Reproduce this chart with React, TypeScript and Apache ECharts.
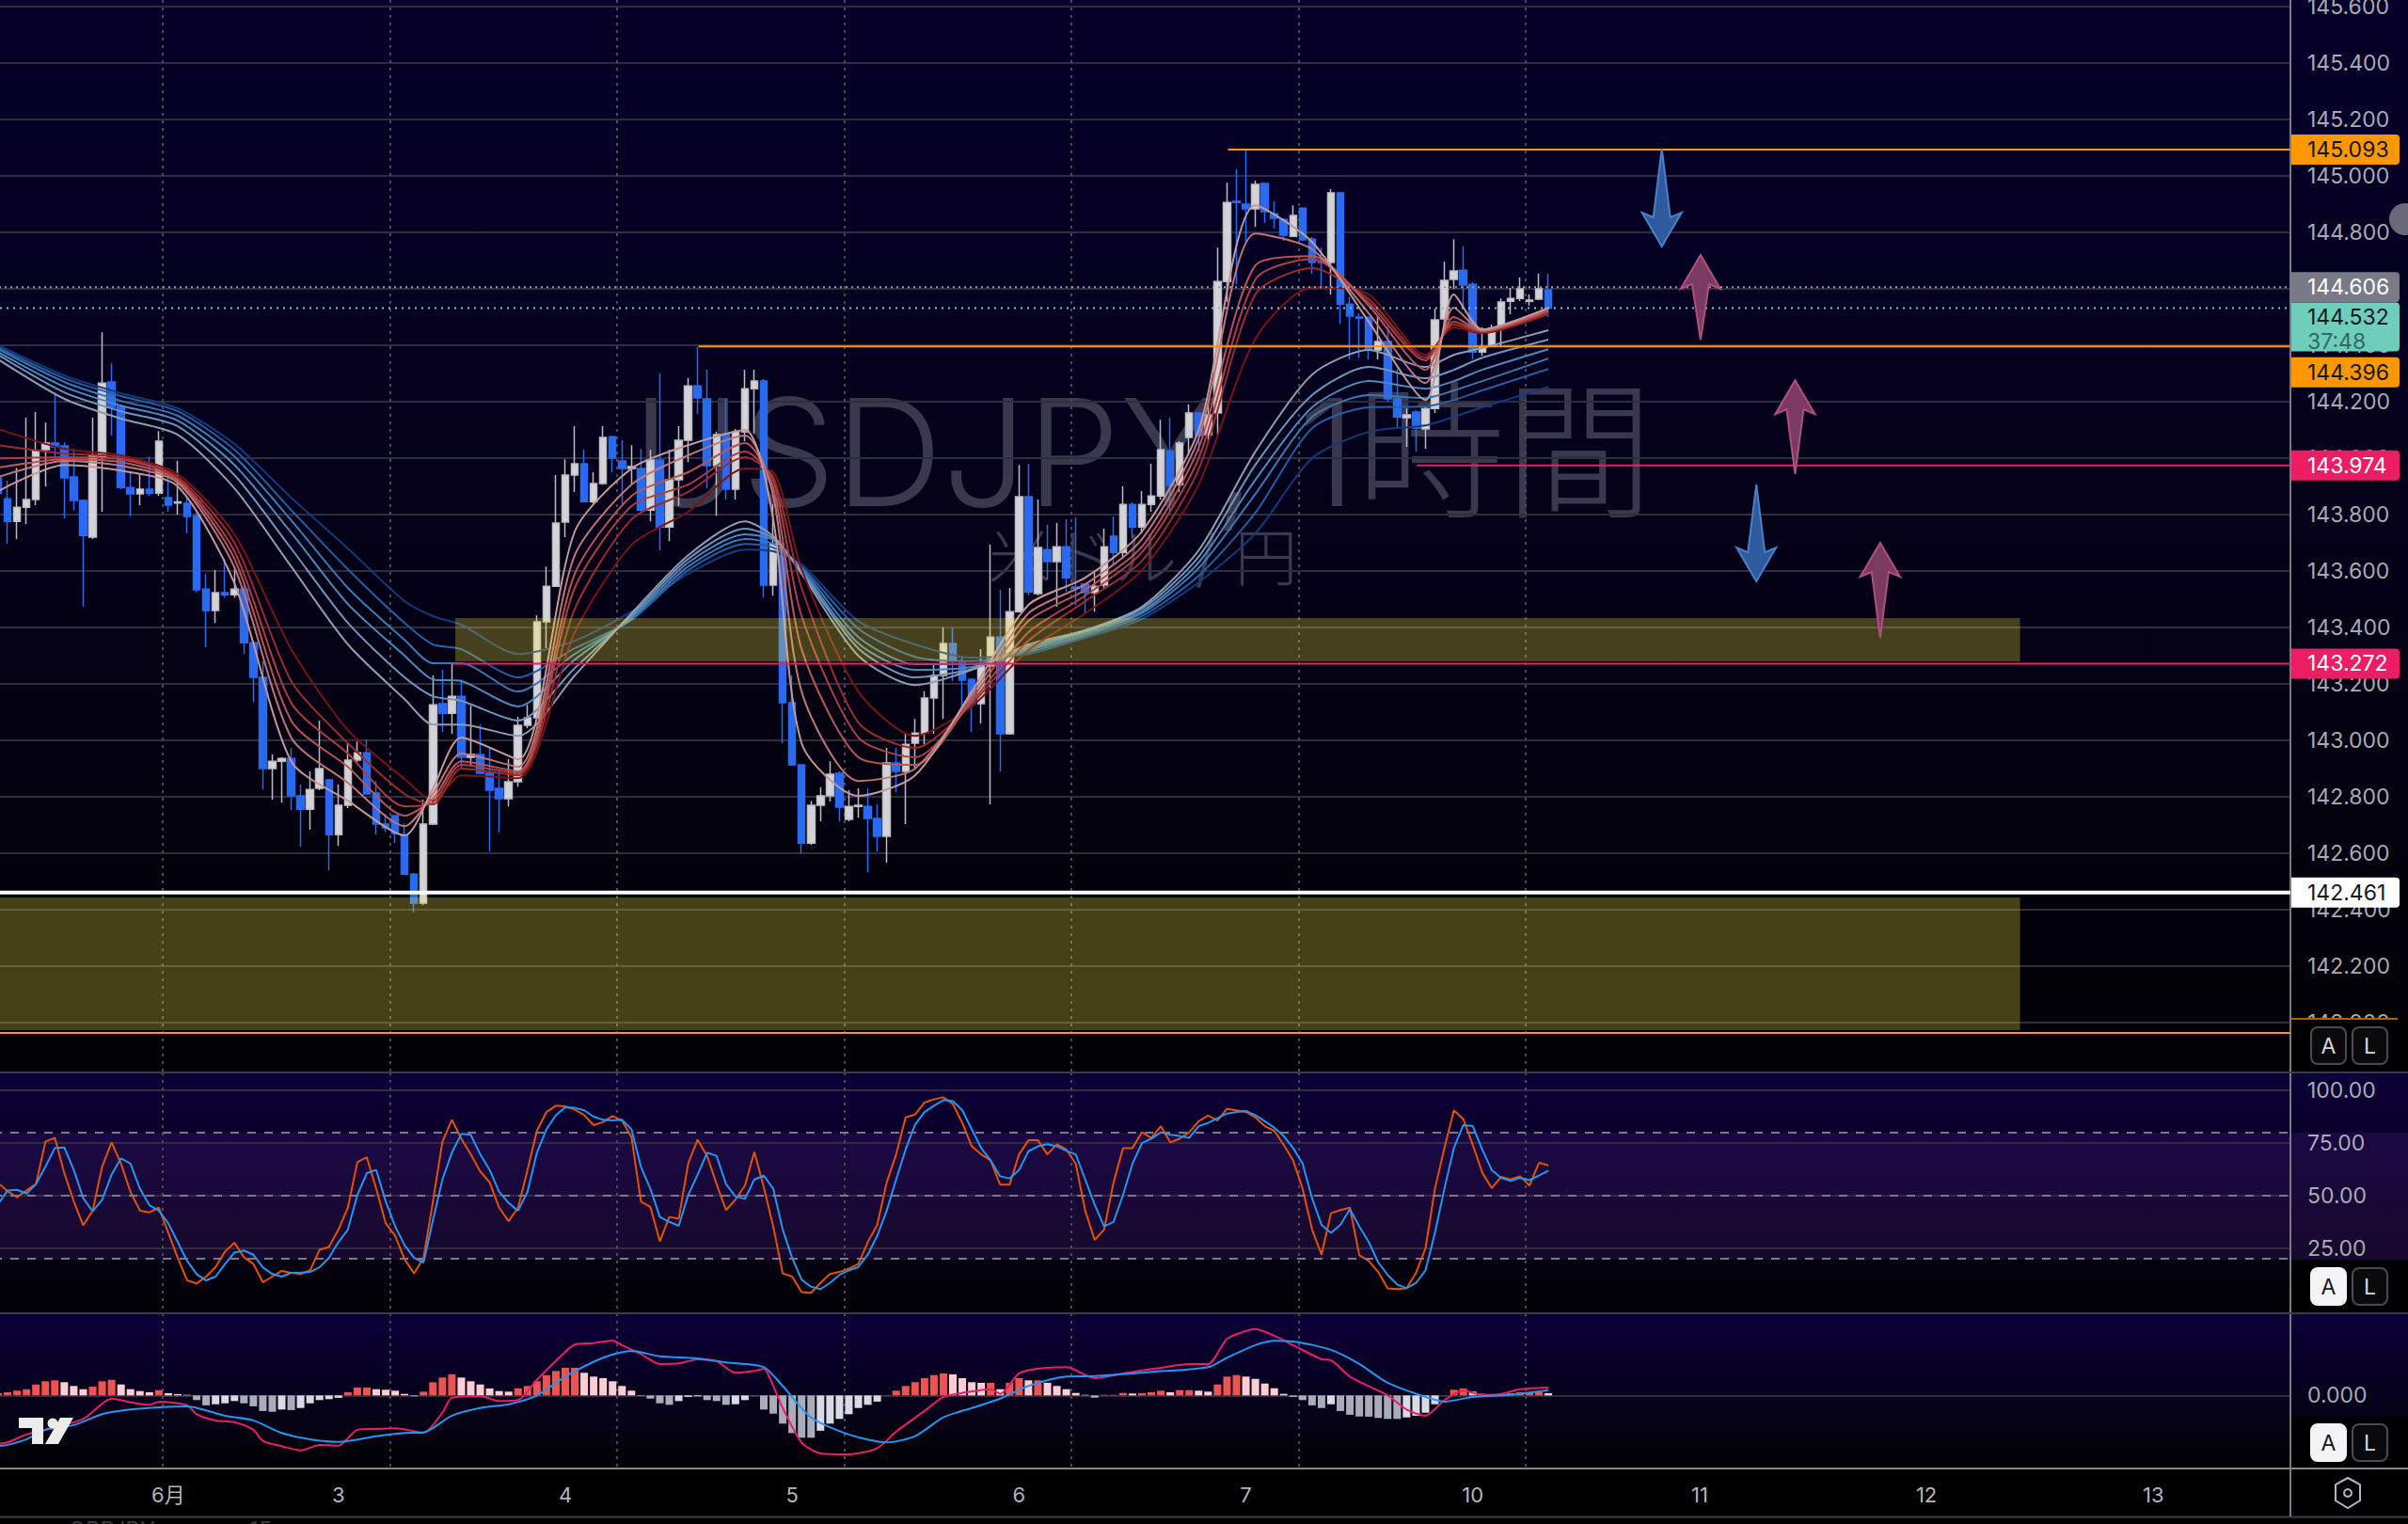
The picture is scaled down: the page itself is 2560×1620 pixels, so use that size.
import React, { useEffect, useRef } from "react";
import * as echarts from "echarts";

const FONT = "Inter, 'Noto Sans', sans-serif";
const CJK = "Inter, 'Noto Sans CJK JP', sans-serif";

const slotCount = 243;
const tickIndex = [18, 36, 60, 84, 108, 132, 156, 180, 204, 228];
const tickLabels = ["6月", "3", "4", "5", "6", "7", "10", "11", "12", "13"];
const dayLines = [17.91, 41.94, 65.97, 90, 114.03, 138.06, 162.09];
const priceTicks = [142.0, 142.2, 142.4, 142.6, 142.8, 143.0, 143.2, 143.4, 143.6, 143.8, 144.0, 144.2, 144.4, 144.6, 144.8, 145.0, 145.2, 145.4, 145.6];
const stochTicks = [25, 50, 75, 100];
const macdTicks = [0];

// open, close, low, high
const candles: number[][] = [
[143.93,143.876,143.82,143.99],
[143.856,143.776,143.696,143.92],[143.776,143.826,143.713,143.966],[143.826,143.853,143.766,144.143],[143.853,144.026,143.833,144.163],[144.03,144.053,143.9,144.126],[144.053,144.04,143.999,144.226],[144.043,143.93,143.786,144.056],[143.933,143.85,143.816,144.033],[143.85,143.726,143.473,143.853],[143.72,144.01,143.713,144.143],
[144.006,144.266,143.81,144.446],[144.27,144.18,144.08,144.336],[144.183,143.896,143.89,144.19],[143.896,143.873,143.793,143.95],[143.873,143.89,143.833,143.946],[143.89,143.876,143.866,144.006],[143.876,144.06,143.866,144.096],[143.86,143.833,143.81,143.943],[143.841,143.845,143.8,143.99],[143.84,143.793,143.733,143.866],
[143.796,143.533,143.523,143.806],[143.536,143.46,143.33,143.59],[143.46,143.523,143.416,143.603],[143.523,143.516,143.506,143.643],[143.516,143.536,143.506,143.616],[143.536,143.346,143.306,143.563],[143.346,143.223,143.136,143.353],[143.223,142.9,142.826,143.28],[142.9,142.926,142.79,142.95],[142.926,142.936,142.78,142.94],
[142.936,142.803,142.753,142.973],[142.803,142.756,142.623,142.843],[142.756,142.826,142.683,142.89],[142.83,142.9,142.823,143.07],[142.86,142.666,142.54,142.863],[142.666,142.77,142.626,142.843],[142.77,142.93,142.76,142.99],[142.93,142.956,142.923,142.996],[142.956,142.81,142.808,143.003],[142.813,142.703,142.666,142.856],
[142.703,142.69,142.676,142.74],[142.733,142.67,142.636,142.736],[142.666,142.526,142.524,142.706],[142.526,142.423,142.39,142.53],[142.423,142.703,142.416,142.79],[142.703,143.126,142.7,143.23],[143.13,143.096,143.03,143.25],[143.096,143.156,143.023,143.27],[143.156,142.94,142.9,143.216],[142.94,142.95,142.913,143.123],
[142.95,142.883,142.88,143.056],[142.883,142.823,142.606,142.976],[142.83,142.793,142.673,142.89],[142.793,142.853,142.766,142.933],[142.853,143.053,142.836,143.083],[143.053,143.08,143.043,143.126],[143.08,143.42,143.076,143.443],[143.42,143.546,143.326,143.616],[143.546,143.77,143.545,143.94],[143.773,143.94,143.72,143.996],
[143.94,143.98,143.88,144.113],[143.98,143.846,143.843,144.03],[143.846,143.91,143.84,143.95],[143.91,144.073,143.906,144.113],[144.076,144.0,143.95,144.08],[143.99,143.963,143.836,144.063],[143.963,143.97,143.906,144.046],[143.963,143.816,143.803,144.033],[143.816,143.993,143.776,144.03],[143.993,143.756,143.673,144.3],
[143.756,143.923,143.706,144.03],[143.923,144.063,143.83,144.113],[144.063,144.256,143.986,144.283],[144.256,144.213,144.156,144.396],[144.21,143.973,143.893,144.313],[143.973,144.083,143.796,144.093],[144.086,143.89,143.853,144.21],[143.89,144.093,143.853,144.103],[144.093,144.246,144.06,144.313],[144.246,144.273,144.086,144.313],
[144.273,143.55,143.506,144.28],[143.55,143.696,143.513,143.836],[143.676,143.133,142.99,143.7],[143.133,142.913,142.91,143.23],[142.913,142.636,142.6,142.916],[142.636,142.77,142.63,142.786],[142.77,142.803,142.713,142.833],[142.803,142.88,142.783,142.926],[142.883,142.763,142.713,142.89],[142.72,142.766,142.713,142.823],
[142.766,142.77,142.726,142.83],[142.766,142.723,142.533,142.83],[142.723,142.66,142.606,142.773],[142.66,142.92,142.566,142.973],[142.92,142.89,142.816,142.973],[142.89,142.986,142.703,143.026],[142.99,143.026,142.9,143.076],[143.026,143.15,142.986,143.173],[143.15,143.23,143.023,143.27],[143.23,143.343,143.076,143.4],
[143.343,143.28,143.21,143.4],[143.28,143.213,143.113,143.3],[143.216,143.13,143.03,143.22],[143.13,143.263,143.06,143.323],[143.263,143.366,142.773,143.693],[143.366,143.023,142.89,143.533],[143.023,143.456,143.02,143.54],[143.456,143.863,143.455,143.976],[143.863,143.526,143.513,143.98],[143.52,143.683,143.513,143.853],
[143.676,143.633,143.57,143.763],[143.633,143.686,143.473,143.77],[143.686,143.576,143.526,143.783],[143.543,143.538,143.48,143.79],[143.553,143.523,143.45,143.556],[143.523,143.546,143.456,143.596],[143.55,143.686,143.54,143.75],[143.723,143.666,143.623,143.793],[143.666,143.836,143.643,143.9],[143.836,143.756,143.716,143.843],
[143.756,143.836,143.733,143.883],[143.836,143.866,143.81,143.98],[143.866,144.03,143.853,144.136],[144.026,143.903,143.803,144.143],[143.906,144.053,143.88,144.06],[144.073,144.16,144.01,144.19],[144.16,144.08,144.023,144.163],[144.083,144.153,144.06,144.186],[144.16,144.626,144.08,144.746],[144.626,144.906,144.553,144.976],
[144.91,144.906,144.616,145.023],[144.9,144.883,144.763,145.093],[144.883,144.97,144.82,144.983],[144.973,144.873,144.833,144.973],[144.866,144.85,144.813,144.91],[144.846,144.79,144.77,144.85],[144.786,144.86,144.783,144.896],[144.886,144.773,144.77,144.887],[144.776,144.693,144.653,144.783],[144.7,144.693,144.606,144.746],
[144.693,144.94,144.58,144.953],[144.94,144.546,144.476,144.943],[144.546,144.503,144.35,144.57],[144.5,144.496,144.356,144.513],[144.5,144.383,144.35,144.5],[144.383,144.413,144.35,144.5],[144.413,144.21,144.2,144.466],[144.21,144.146,144.103,144.316],[144.143,144.153,144.04,144.176],[144.163,144.106,144.023,144.17],
[144.103,144.176,144.033,144.186],[144.176,144.49,144.16,144.53],[144.493,144.63,144.433,144.696],[144.633,144.663,144.6,144.776],[144.666,144.613,144.533,144.75],[144.616,144.376,144.35,144.623],[144.376,144.393,144.363,144.463],[144.4,144.46,144.396,144.473],[144.466,144.553,144.396,144.566],[144.556,144.566,144.51,144.603],
[144.566,144.6,144.556,144.64],[144.556,144.56,144.54,144.58],[144.563,144.6,144.56,144.653],[144.596,144.532,144.5,144.653],
];

const maIdx = [0,7,13,19,25,31,37,43,46,49,55,61,67,73,79,82,85,91,97,103,109,115,121,127,133,139,145,151,154,157,164];
const blue1 = [144.35,144.21,144.14,144.083,143.893,143.616,143.34,143.146,143.056,143.056,143.016,143.23,143.45,143.656,143.776,143.723,143.59,143.3,143.196,143.25,143.34,143.39,143.473,143.673,144.023,144.296,144.383,144.323,144.366,144.39,144.453];
const blue2 = [144.366,144.233,144.166,144.113,143.94,143.68,143.416,143.223,143.156,143.14,143.07,143.256,143.443,143.643,143.75,143.716,143.596,143.326,143.223,143.253,143.333,143.386,143.466,143.65,143.976,144.223,144.323,144.283,144.313,144.356,144.42];
const blue3 = [144.376,144.253,144.186,144.133,143.976,143.736,143.483,143.3,143.216,143.21,143.12,143.286,143.436,143.63,143.73,143.71,143.603,143.343,143.25,143.26,143.326,143.383,143.456,143.63,143.923,144.18,144.273,144.246,144.273,144.313,144.386];
const blue4 = [144.386,144.27,144.203,144.15,144.006,143.78,143.54,143.356,143.273,143.273,143.173,143.306,143.43,143.616,143.713,143.696,143.61,143.366,143.27,143.27,143.32,143.376,143.45,143.61,143.873,144.146,144.223,144.213,144.24,144.273,144.353];
const blue5 = [144.393,144.283,144.22,144.166,144.03,143.816,143.606,143.416,143.34,143.323,143.223,143.326,143.426,143.603,143.696,143.683,143.616,143.396,143.296,143.28,143.313,143.37,143.44,143.583,143.806,144.106,144.18,144.183,144.206,144.24,144.316];
const blue6 = [144.4,144.293,144.23,144.176,144.05,143.86,143.68,143.493,143.44,143.41,143.306,143.353,143.456,143.59,143.676,143.67,143.623,143.423,143.34,143.293,143.306,143.363,143.43,143.56,143.733,144.0,144.093,144.116,144.146,144.18,144.253];
const red1 = [143.883,143.976,143.956,143.9,143.556,142.926,142.786,142.663,142.83,143.01,142.933,143.74,143.963,144.046,144.1,143.783,142.99,142.803,142.876,143.173,143.48,143.576,143.74,144.1,144.896,144.766,144.483,144.206,144.58,144.456,144.533];
const red2 = [143.933,143.99,143.973,143.913,143.613,143.01,142.85,142.696,142.81,142.953,142.906,143.656,143.906,144.01,144.08,143.866,143.173,142.856,142.9,143.16,143.45,143.553,143.713,144.07,144.796,144.74,144.513,144.266,144.533,144.453,144.53];
const red3 = [143.966,143.996,143.986,143.92,143.643,143.07,142.906,142.733,142.793,142.926,142.89,143.59,143.866,143.95,144.053,143.893,143.323,142.94,142.913,143.146,143.423,143.533,143.686,144.036,144.683,144.716,144.54,144.313,144.5,144.45,144.523];
const red4 = [143.999,144.003,143.996,143.926,143.67,143.133,142.953,142.766,142.78,142.913,142.883,143.54,143.83,143.906,144.023,143.92,143.44,143.01,142.94,143.136,143.383,143.513,143.666,143.999,144.633,144.706,144.55,144.346,144.483,144.45,144.52];
const red5 = [144.046,144.016,144.003,143.933,143.7,143.21,142.99,142.81,142.773,142.9,142.876,143.466,143.783,143.88,144.003,143.933,143.54,143.063,142.973,143.13,143.353,143.493,143.636,143.96,144.58,144.673,144.563,144.356,144.473,144.446,144.513];
const red6 = [144.103,144.033,144.01,143.943,143.73,143.323,143.036,142.863,142.786,142.876,142.866,143.383,143.693,143.81,143.963,143.95,143.606,143.173,143.016,143.12,143.32,143.45,143.603,143.906,144.423,144.606,144.58,144.366,144.463,144.443,144.51];

const stochK = [56,52.1,49.3,52.5,55.5,75.6,77.5,60.7,47.3,35.9,42.9,63.7,75.3,65.2,51.8,42.9,42.1,44.3,32.4,20.5,9.8,8.3,11.6,16.1,23.5,27.7,20.8,17.6,8.9,11.6,14.3,13.4,12.8,14.6,24.3,25.7,33.9,44.3,65.9,68.2,53.3,36.9,31,19.8,13.1,20.5,47.3,75.6,86,77,69.6,61.5,56.3,44.3,37.9,44.3,62.2,80.8,89.7,92.7,92.4,90.8,88.2,83.5,85,87.8,85.6,77.8,47.3,44.6,28.3,39.9,39.1,65.2,76.6,68.9,55.5,43.2,48.1,54.8,70.7,54,35.4,13.1,11.6,4.2,3.9,8.6,12.8,13.8,15.3,17.6,28,36.2,56.3,69.6,87.2,88.5,94.2,95.7,96.7,93.5,84.5,73.4,69.6,66.7,55.2,55.2,69.6,76.3,76.3,69.6,74.4,71.9,65.2,42.9,29,33.9,56.3,72.6,72.6,80.1,77.4,83,75.3,77.1,80.1,85.3,88,85.7,91.2,90.5,89.7,87.2,83,80.8,74.1,66.7,53.3,33.9,22,41.7,43.2,44.3,21.7,19,13.8,6,5.7,6,13.4,25,53.3,72.6,90.5,86.3,74.1,61,53.6,58.9,57.7,59.2,54.8,65.6,64.4];
const stochD = [46,52.5,52.8,51,55.5,63.7,72.6,72.9,62.2,48.8,42.6,48,60,67.7,65.2,53.3,45.5,42.9,36.9,28,19,12.8,9.8,11.6,17.6,23,24,22,16,12.8,11.6,13.4,13.5,13.8,16,20.5,28,33.9,50.3,60.7,62.2,47.3,35.4,26.5,20.5,18.3,38.4,57.7,70.4,79.3,78.9,69.6,62.2,51.8,46.6,42.9,51.8,70.4,81.5,88.2,92,91.7,90.5,87.5,86,85.7,86,81.5,63.7,53.3,39.9,37.6,35.7,50.3,60,70.4,68.9,55.5,49.6,48.5,57.7,59.5,53.3,33.9,20.5,10.1,6.8,5.7,8.6,12.4,14.6,16.1,22,31,42.9,57.7,71.9,83.8,89.7,92.7,95.4,94.9,90.5,81.5,72.6,66.7,59.2,58.2,62.2,71.1,73.4,74.4,73.4,71.4,69.6,57.7,45.8,35.4,37.6,50.3,65.2,74.9,77.1,80.1,78.9,78.3,77.4,83,84.5,86.8,89,89.7,90.2,88.2,85.3,82.3,78.3,72.6,65.2,48.8,36.2,32.4,36.2,43.6,35.4,28,18.3,12.4,7.9,6.1,8.6,14.6,32.4,53.3,72.6,83.5,83,71.9,62.2,58.5,57,58.5,57.4,59.5,61.9];

const macdHist = [.012,.017,.025,.033,.058,.075,.08,.07,.05,.033,.047,.075,.083,.058,.033,.023,.017,.028,.012,.007,.003,-.025,-.053,-.047,-.042,-.03,-.042,-.058,-.083,-.087,-.075,-.078,-.067,-.042,-.025,-.02,-.013,.017,.042,.042,.033,.03,.025,.008,-.005,.02,.07,.095,.112,.095,.075,.058,.037,.023,.02,.038,.05,.075,.108,.13,.147,.147,.12,.1,.092,.075,.05,.025,-.003,-.017,-.042,-.05,-.03,-.008,-.005,-.025,-.03,-.05,-.047,-.025,-.001,-.075,-.097,-.15,-.2,-.225,-.225,-.188,-.15,-.125,-.1,-.067,-.05,-.033,.001,.025,.05,.07,.092,.108,.117,.112,.092,.07,.067,.067,.033,.067,.092,.08,.08,.067,.05,.033,.013,.003,-.012,.003,.003,.013,.01,.012,.017,.025,.017,.028,.028,.025,.02,.058,.1,.108,.1,.088,.063,.038,.008,-.008,-.025,-.053,-.067,-.047,-.083,-.103,-.112,-.113,-.12,-.125,-.125,-.117,-.108,-.092,-.047,.001,.03,.037,.02,.008,.005,.008,.012,.017,.017,.017,.012];
const macdLine = [[0,-.258],[1,-.25],[3,-.208],[9,-.125],[12,-.017],[14,-.037],[16,-.05],[17,-.033],[20,-.053],[21,-.1],[23,-.133],[25,-.142],[27,-.183],[28,-.242],[30,-.27],[32,-.292],[34,-.263],[36,-.267],[38,-.183],[40,-.178],[42,-.175],[45,-.197],[47,-.092],[48,-.013],[51,-.003],[53,-.03],[55,-.025],[57,.083],[59,.183],[61,.27],[63,.278],[65,.292],[66,.267],[68,.22],[70,.167],[72,.17],[74,.192],[76,.183],[78,.12],[80,.13],[81,.142],[82,.05],[83,-.067],[85,-.25],[87,-.308],[90,-.313],[93,-.28],[95,-.192],[98,-.083],[100,-.008],[102,.013],[105,.033],[106,.008],[108,.117],[110,.142],[113,.15],[116,.092],[119,.117],[123,.147],[126,.167],[128,.167],[130,.3],[132,.342],[133,.353],[135,.317],[137,.267],[140,.192],[141,.187],[143,.1],[147,0],[149,-.075],[151,-.108],[153,-.025],[155,.025],[157,.003],[159,.008],[161,.033],[164,.042]];
const macdSignal = [[0,-.27],[1,-.263],[3,-.233],[5,-.183],[8,-.158],[11,-.1],[14,-.075],[17,-.063],[20,-.058],[24,-.108],[27,-.133],[30,-.2],[33,-.233],[36,-.247],[40,-.217],[43,-.2],[45,-.197],[48,-.108],[51,-.067],[54,-.047],[57,0],[60,.1],[64,.2],[67,.237],[70,.208],[74,.197],[77,.175],[81,.15],[83,.05],[86,-.117],[90,-.208],[94,-.25],[97,-.217],[100,-.117],[103,-.067],[106,-.017],[109,.05],[113,.1],[116,.103],[122,.125],[128,.15],[130,.2],[133,.267],[135,.29],[137,.287],[141,.242],[144,.167],[147,.067],[151,-.008],[153,-.033],[156,-.008],[160,.003],[164,.028]];

// start slot, price, colour, width, dash
const levels: any[][] = [
  [130.6, 145.093, "#ff9800", 2, "solid"],
  [74.6, 144.396, "#ff9800", 2, "solid"],
  [150.6, 143.974, "#e91e63", 2, "solid"],
  [48.6, 143.272, "#e91e63", 2, "solid"],
  [0, 142.461, "#ffffff", 4, "solid"],
  [0, 141.963, "#ff9800", 2, "solid"],
  [0, 144.606, "#9a9aa2", 2, [2, 4]],
  [0, 144.532, "#6fd0c0", 2, [2, 5]],
];
const zones = [
  [48.86, 214.4, 143.433, 143.28],
  [0, 214.4, 142.443, 141.973],
];
// slot, tail price, tip price, colour kind
const arrows = [
  [176.5, 145.096, 144.75, 0],
  [180.6, 144.42, 144.72, 1],
  [190.6, 143.944, 144.276, 1],
  [186.5, 143.906, 143.563, 0],
  [199.6, 143.363, 143.7, 1],
];
// price, text, background, text colour, tag shift
const tags: any[][] = [
  [145.093, "145.093", "#ff9800", "#131722", 0],
  [144.606, "144.606", "#787b86", "#ffffff", 0],
  [144.396, "144.396", "#ff9800", "#131722", 27.5],
  [143.974, "143.974", "#e91e63", "#ffffff", 0],
  [143.272, "143.272", "#e91e63", "#ffffff", 0],
  [142.461, "142.461", "#ffffff", "#131722", 0],
];
const lastPrice = 144.532;
const lastText = "144.532";
const countdown = "37:48";

const blueColors = ["#8e9cb0", "#7095ba", "#4f88bd", "#3a78b5", "#235fa3", "#103a80"];
const redColors = ["#c49898", "#bf7676", "#b85656", "#ab4040", "#9c2b2b", "#7a1414"];

const GRID = "#2d2d3b";
const LEFT = -7;
const WIDTH = 2442;
const TXT = 23;

function buildOption() {
  const categories = Array.from({ length: slotCount }, (_, i) => {
    const k = tickIndex.indexOf(i);
    return k >= 0 ? tickLabels[k] : "";
  });
  const catAxis = (gridIndex: number, labelled: boolean) => ({
    type: "category",
    gridIndex,
    data: categories,
    boundaryGap: true,
    axisLine: { show: false },
    axisTick: { show: false },
    splitLine: { show: false },
    axisLabel: labelled
      ? {
          show: true,
          color: "#b2b5be",
          fontFamily: CJK,
          fontSize: 22,
          margin: 17,
          interval: (i: number) => tickIndex.includes(i),
        }
      : { show: false },
  });
  const dayAxis = (gridIndex: number) => ({
    type: "value",
    gridIndex,
    position: "top",
    min: 0,
    max: slotCount,
    axisLine: { show: false },
    axisLabel: { show: false },
    axisTick: { show: false, customValues: dayLines },
    splitLine: { show: true, lineStyle: { color: "#4a4a55", width: 2, type: [3, 5] } },
  });
  const valAxis = (gridIndex: number, min: number, max: number, ticks: number[], digits: number) => ({
    type: "value",
    gridIndex,
    position: "right",
    min,
    max,
    scale: true,
    axisLine: { show: true, onZero: false, lineStyle: { color: "#787b86", width: 2 } },
    axisTick: { show: false, customValues: ticks },
    splitLine: { show: true, lineStyle: { color: GRID, width: 2 } },
    axisLabel: {
      show: true,
      customValues: ticks,
      margin: 18,
      color: "#a8aab4",
      fontFamily: FONT,
      fontSize: TXT,
      formatter: (v: number) => v.toFixed(digits),
    },
  });

  const maSeries = (vals: number[], color: string, z: number) => ({
    type: "line",
    xAxisIndex: 0,
    yAxisIndex: 0,
    data: maIdx.map((k, i) => [k, vals[i]]),
    showSymbol: false,
    symbol: "none",
    smooth: 0.25,
    z,
    lineStyle: { color, width: 2 },
  });

  const series: any[] = [
    {
      type: "candlestick",
      xAxisIndex: 0,
      yAxisIndex: 0,
      data: candles,
      barWidth: 8,
      z: 3,
      itemStyle: { color: "#d4d4d8", color0: "#2a6af0", borderColor: "#bcbcc2", borderColor0: "#2a6af0", borderWidth: 1.5 },
    },
  ];
  [blue6, blue5, blue4, blue3, blue2, blue1].forEach((v, i) => series.push(maSeries(v, blueColors[5 - i], 4)));
  [red6, red5, red4, red3, red2, red1].forEach((v, i) => series.push(maSeries(v, redColors[5 - i], 4)));

  series.push({
    type: "custom",
    xAxisIndex: 1,
    yAxisIndex: 0,
    z: 6,
    data: zones.map((z) => [z[0], z[2]]),
    renderItem: (p: any, api: any) => {
      const z = zones[p.dataIndex];
      const a = api.coord([z[0], z[2]]);
      const b = api.coord([z[1], z[3]]);
      return { type: "rect", shape: { x: a[0], y: a[1], width: b[0] - a[0], height: b[1] - a[1] }, style: { fill: "rgba(255,235,59,0.27)" } };
    },
  });
  levels.forEach((l) => {
    series.push({
      type: "line",
      xAxisIndex: 1,
      yAxisIndex: 0,
      data: [[l[0], l[1]], [slotCount, l[1]]],
      showSymbol: false,
      symbol: "none",
      z: 7,
      lineStyle: { color: l[2], width: l[3], type: l[4] },
    });
  });
  series.push({
    type: "custom",
    xAxisIndex: 1,
    yAxisIndex: 0,
    z: 8,
    data: arrows.map((a) => [a[0], a[1]]),
    renderItem: (p: any, api: any) => {
      const a = arrows[p.dataIndex];
      const tail = api.coord([a[0], a[1]]);
      const tip = api.coord([a[0], a[2]]);
      const d = tip[1] > tail[1] ? 1 : -1;
      const x = tail[0];
      const barb = tip[1] - d * 36;
      const notch = barb + d * 5;
      const blue = a[3] === 0;
      return {
        type: "polygon",
        shape: { points: [[x, tail[1]], [x + 9, notch], [x + 21, barb], [x, tip[1]], [x - 21, barb], [x - 9, notch]] },
        style: { fill: blue ? "#2f5a9e" : "#7a3a64", stroke: blue ? "#4a80c8" : "#b24f7c", lineWidth: 2 },
      };
    },
  });
  series.push({
    type: "custom",
    xAxisIndex: 1,
    yAxisIndex: 0,
    z: 20,
    clip: false,
    data: tags.map((t) => [slotCount, t[0]]),
    renderItem: (p: any, api: any) => {
      const t = tags[p.dataIndex];
      const c = api.coord([slotCount, t[0]]);
      const y = c[1] + t[4];
      return {
        type: "group",
        children: [
          { type: "rect", shape: { x: c[0] + 1, y: y - 16, width: 115, height: 32, r: [0, 4, 4, 0] }, style: { fill: t[2] } },
          { type: "text", x: c[0] + 18, y, style: { text: t[1], fill: t[3], font: `${TXT}px ${FONT}`, align: "left", verticalAlign: "middle" } },
        ],
      };
    },
  });
  series.push({
    type: "custom",
    xAxisIndex: 1,
    yAxisIndex: 0,
    z: 21,
    clip: false,
    data: [[slotCount, lastPrice]],
    renderItem: (_p: any, api: any) => {
      const c = api.coord([slotCount, lastPrice]);
      return {
        type: "group",
        children: [
          { type: "rect", shape: { x: c[0] + 1, y: c[1] - 6, width: 115, height: 52, r: [0, 4, 4, 0] }, style: { fill: "#6fcdbb" } },
          { type: "text", x: c[0] + 18, y: c[1] + 10, style: { text: lastText, fill: "#131722", font: `${TXT}px ${FONT}`, align: "left", verticalAlign: "middle" } },
          { type: "text", x: c[0] + 18, y: c[1] + 36, style: { text: countdown, fill: "#2f6a60", font: `${TXT}px ${FONT}`, align: "left", verticalAlign: "middle" } },
        ],
      };
    },
  });

  const stochLine = (vals: number[], color: string, extra: any = {}) => ({
    type: "line",
    xAxisIndex: 2,
    yAxisIndex: 1,
    data: vals,
    showSymbol: false,
    symbol: "none",
    z: 4,
    lineStyle: { color, width: 2 },
    ...extra,
  });
  series.push(
    stochLine(stochK, "#e65100", {
      markLine: {
        silent: true,
        symbol: "none",
        label: { show: false },
        lineStyle: { color: "#787b86", type: [9, 9], width: 2 },
        data: [{ yAxis: 80 }, { yAxis: 50 }, { yAxis: 20 }],
      },
    })
  );
  series.push(stochLine(stochD, "#2196f3"));

  series.push({
    type: "bar",
    xAxisIndex: 4,
    yAxisIndex: 2,
    barWidth: 8,
    data: macdHist,
    z: 3,
    itemStyle: {
      color: (p: any) => {
        const v = macdHist[p.dataIndex];
        const prev = p.dataIndex > 0 ? macdHist[p.dataIndex - 1] : 0;
        if (v >= 0) return v >= prev ? "#ef5350" : "#ffcdd2";
        return v <= prev ? "#a9acb9" : "#d8dae6";
      },
    },
  });
  series.push({ type: "line", xAxisIndex: 4, yAxisIndex: 2, data: macdLine, showSymbol: false, symbol: "none", smooth: 0.25, z: 4, lineStyle: { color: "#e91e63", width: 2 } });
  series.push({ type: "line", xAxisIndex: 4, yAxisIndex: 2, data: macdSignal, showSymbol: false, symbol: "none", smooth: 0.25, z: 5, lineStyle: { color: "#2196f3", width: 2 } });

  const grad = (c0: string, c1: string) => ({
    type: "linear",
    x: 0,
    y: 0,
    x2: 0,
    y2: 1,
    colorStops: [
      { offset: 0, color: c0 },
      { offset: 1, color: c1 },
    ],
  });
  const rect = (x: number, y: number, w: number, h: number, fill: any, z: number, extra: any = {}) => ({
    type: "rect",
    z,
    silent: true,
    shape: { x, y, width: w, height: h, ...(extra.r ? { r: extra.r } : {}) },
    style: { fill, ...(extra.stroke ? { stroke: extra.stroke, lineWidth: 2 } : {}) },
  });
  const hline = (x1: number, x2: number, y: number, color: string, width: number, z = 30) => ({
    type: "line",
    z,
    silent: true,
    shape: { x1, y1: y, x2, y2: y },
    style: { stroke: color, lineWidth: width },
  });
  const label = (x: number, y: number, text: string, fill: string, size: number, z = 32, family = FONT, align = "center", weight: any = 400) => ({
    type: "text",
    z,
    silent: true,
    x,
    y,
    style: { text, fill, font: `${weight} ${size}px ${family}`, align, verticalAlign: "middle" },
  });
  const button = (x: number, y: number, text: string, on: boolean) => [
    rect(x, y, 37, 39, on ? "#f4f4f6" : "#0a0a0c", 31, { r: 7, stroke: on ? "#f4f4f6" : "#4a4a50" }),
    label(x + 18.5, y + 20, text, on ? "#131722" : "#d8d8dc", 23),
  ];

  const graphic = [
    rect(0, 0, 2560, 1140, grad("#06002a", "#020205"), -10),
    rect(0, 1140, 2560, 256, grad("#0b0038", "#020204"), -10),
    rect(0, 1396, 2560, 165, grad("#0b0038", "#020204"), -10),
    rect(0, 1561, 2560, 59, "#000000", -10),
    rect(0, 1204, 2560, 135, "rgba(126,50,200,0.16)", -9),
    label(1215, 480, "USDJPY, 1時間", "#3a384c", 158, -8, CJK, "center", 300),
    label(1215, 592, "米ドル / 円", "#3a384c", 67, -8, CJK, "center", 300),

    rect(2436, 1084, 124, 55, "#000000", 25),
    hline(2436, 2549, 1083, "#a86400", 2, 26),
    rect(2436, 1340, 124, 55, "#000000", 25),
    rect(2436, 1506, 124, 54, "#000000", 25),
    ...button(2457, 1092, "A", false),
    ...button(2501, 1092, "L", false),
    ...button(2457, 1348, "A", true),
    ...button(2501, 1348, "L", false),
    ...button(2457, 1514, "A", true),
    ...button(2501, 1514, "L", false),

    hline(0, 2560, 1140, "#3c3c48", 2),
    hline(0, 2560, 1396, "#3c3c48", 2),
    hline(0, 2560, 1561, "#85858c", 2),
    hline(0, 2560, 1612.5, "#3e3e44", 2),
    { type: "line", z: 30, silent: true, shape: { x1: 2435, y1: 1561, x2: 2435, y2: 1612 }, style: { stroke: "#787b86", lineWidth: 2 } },

    { type: "circle", z: 30, silent: true, shape: { cx: 2557, cy: 233, r: 17 }, style: { fill: "#696979" } },

    { type: "polygon", z: 30, silent: true, shape: { points: [[2496, 1571], [2509, 1578], [2509, 1595], [2496, 1603], [2483, 1595], [2483, 1578]] }, style: { fill: "none", stroke: "#b2b5be", lineWidth: 2 } },
    { type: "circle", z: 30, silent: true, shape: { cx: 2496, cy: 1587, r: 4 }, style: { fill: "none", stroke: "#b2b5be", lineWidth: 2 } },

    { type: "polygon", z: 40, silent: true, shape: { points: [[20, 1507], [46, 1507], [46, 1535], [34, 1535], [34, 1518], [20, 1518]] }, style: { fill: "#ececec" } },
    { type: "circle", z: 40, silent: true, shape: { cx: 56, cy: 1513, r: 5.5 }, style: { fill: "#ececec" } },
    { type: "polygon", z: 40, silent: true, shape: { points: [[64, 1507], [78, 1507], [62, 1535], [48, 1535]] }, style: { fill: "#ececec" } },

    { type: "text", z: 32, silent: true, x: 73, y: 1614, style: { text: "GBPJPY", fill: "#3a3a3e", font: `24px ${FONT}`, verticalAlign: "top" } },
    { type: "text", z: 32, silent: true, x: 265, y: 1614, style: { text: "15m", fill: "#3a3a3e", font: `24px ${FONT}`, verticalAlign: "top" } },
  ];

  return {
    animation: false,
    backgroundColor: "#000000",
    grid: [
      { left: LEFT, top: 0, width: WIDTH, height: 1140, outerBoundsMode: "none" },
      { left: LEFT, top: 1140, width: WIDTH, height: 256, outerBoundsMode: "none" },
      { left: LEFT, top: 1396, width: WIDTH, height: 165, outerBoundsMode: "none" },
    ],
    xAxis: [catAxis(0, false), dayAxis(0), catAxis(1, false), dayAxis(1), catAxis(2, true), dayAxis(2)],
    yAxis: [
      valAxis(0, 141.8233, 145.6233, priceTicks, 3),
      valAxis(1, -5.804, 108.482, stochTicks, 2),
      valAxis(2, -0.3885, 0.4365, macdTicks, 3),
    ],
    series,
    graphic: { elements: graphic },
  };
}

export default function App() {
  const ref = useRef<HTMLDivElement>(null);
  useEffect(() => {
    document.body.style.margin = "0";
    document.body.style.overflow = "hidden";
    const chart = echarts.init(ref.current!, undefined, { renderer: "svg" });
    chart.setOption(buildOption() as any);
    return () => chart.dispose();
  }, []);
  return <div ref={ref} style={{ width: 2560, height: 1620 }} />;
}
